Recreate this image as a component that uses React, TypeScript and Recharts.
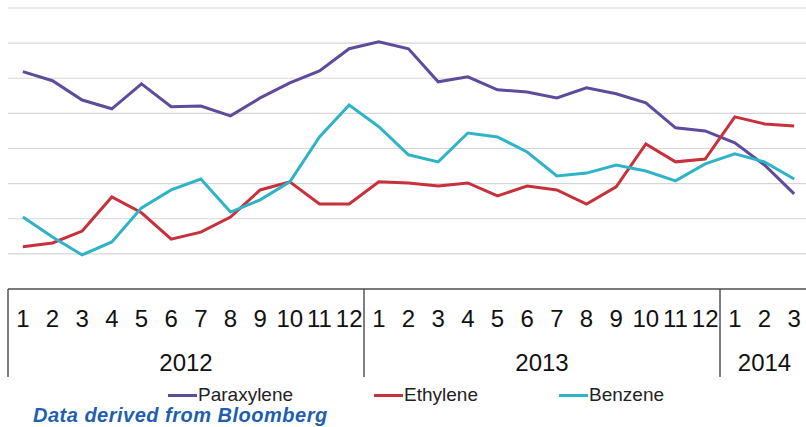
import React from "react";
import {
  CartesianGrid,
  Line,
  LineChart,
  XAxis,
  YAxis,
} from "recharts";

const monthLabels = [
  "1", "2", "3", "4", "5", "6", "7", "8", "9", "10", "11", "12",
  "1", "2", "3", "4", "5", "6", "7", "8", "9", "10", "11", "12",
  "1", "2", "3",
];
const yearLabels = [
  "2012", "2012", "2012", "2012", "2012", "2012", "2012", "2012", "2012", "2012", "2012", "2012",
  "2013", "2013", "2013", "2013", "2013", "2013", "2013", "2013", "2013", "2013", "2013", "2013",
  "2014", "2014", "2014",
];

const paraxylene = [
  6.19, 5.93, 5.38, 5.13, 5.84, 5.19, 5.21, 4.93, 5.44, 5.87, 6.21, 6.84,
  7.04, 6.84, 5.9, 6.04, 5.67, 5.61, 5.44, 5.73, 5.56, 5.3, 4.59, 4.5,
  4.16, 3.53, 2.71,
];
const ethylene = [
  1.2, 1.31, 1.65, 2.62, 2.17, 1.42, 1.62, 2.05, 2.82, 3.05, 2.42, 2.42,
  3.05, 3.02, 2.93, 3.02, 2.65, 2.93, 2.82, 2.42, 2.91, 4.13, 3.62, 3.7,
  4.9, 4.7, 4.64,
];
const benzene = [
  2.05, 1.48, 0.97, 1.34, 2.31, 2.82, 3.13, 2.19, 2.54, 3.05, 4.33, 5.24,
  4.62, 3.82, 3.62, 4.44, 4.33, 3.9, 3.22, 3.3, 3.53, 3.36, 3.08, 3.56,
  3.85, 3.62, 3.13,
];

const yTicks = [0, 1, 2, 3, 4, 5, 6, 7, 8];

const series = [
  { key: "Paraxylene", color: "#5e4b9c" },
  { key: "Ethylene", color: "#c8303c" },
  { key: "Benzene", color: "#2fb3c6" },
];

const rows = monthLabels.map((m, i) => ({
  id: i,
  month: m,
  year: yearLabels[i],
  Paraxylene: paraxylene[i],
  Ethylene: ethylene[i],
  Benzene: benzene[i],
}));

const FONT = "'Liberation Sans', Arial, sans-serif";
const AXIS = "#555";

// first / last index of every year group
const groups = yearLabels.reduce<Record<string, [number, number]>>((acc, y, i) => {
  if (!acc[y]) acc[y] = [i, i];
  else acc[y][1] = i;
  return acc;
}, {});

function MonthTick(props: any) {
  const { x, y, payload } = props;
  const i: number = payload.index;
  const half: number = payload.offset > 0 ? payload.offset : 14.83;
  const band = half * 2;
  const year = yearLabels[i];
  const [first, last] = groups[year];
  return (
    <g>
      <text x={x} y={y + 38} textAnchor="middle" fontSize={24} fill="#111" fontFamily={FONT}>
        {monthLabels[i]}
      </text>
      {i === first && (
        <text
          x={x + ((last - first) / 2) * band}
          y={y + 82}
          textAnchor="middle"
          fontSize={24}
          fill="#111"
          fontFamily={FONT}
        >
          {year}
        </text>
      )}
      {i === 0 && <line x1={x - half} x2={x - half} y1={y} y2={y + 88} stroke={AXIS} strokeWidth={1.5} />}
      {i === last && <line x1={x + half} x2={x + half} y1={y} y2={y + 88} stroke={AXIS} strokeWidth={1.5} />}
    </g>
  );
}

const NoTick = () => <g />;

export default function App() {
  return (
    <div
      style={{
        position: "absolute",
        left: 0,
        top: 0,
        width: 806,
        height: 427,
        overflow: "hidden",
        background: "#fff",
        fontFamily: FONT,
      }}
    >
      <LineChart
        width={816}
        height={427}
        data={rows}
        margin={{ top: 8, right: 7, left: 8, bottom: 0 }}
      >
        <CartesianGrid vertical={false} stroke="#d6d6d6" strokeWidth={1.2} />
        <XAxis
          dataKey="id"
          type="category"
          scale="band"
          height={138}
          tickLine={false}
          tickSize={0}
          tickMargin={0}
          interval={0}
          axisLine={{ stroke: AXIS, strokeWidth: 1.5 }}
          tick={<MonthTick />}
        />
        {/* top frame line */}
        <XAxis
          xAxisId="top"
          dataKey="id"
          orientation="top"
          height={0}
          tickLine={false}
          tick={NoTick}
          axisLine={{ stroke: AXIS, strokeWidth: 1.5 }}
        />
        <YAxis
          width={0}
          domain={[0, 8]}
          ticks={yTicks}
          interval={0}
          tick={NoTick}
          tickLine={false}
          axisLine={{ stroke: AXIS, strokeWidth: 1.5 }}
        />
        {series.map((s) => (
          <Line
            key={s.key}
            dataKey={s.key}
            stroke={s.color}
            strokeWidth={3}
            dot={false}
            type="linear"
            isAnimationActive={false}
          />
        ))}
      </LineChart>
      <div
        style={{
          position: "absolute",
          top: 384,
          left: 168,
          display: "flex",
          gap: 81,
          fontSize: 19,
          lineHeight: "22px",
          color: "#222",
        }}
      >
        {series.map((s) => (
          <div key={s.key} style={{ display: "flex", alignItems: "center" }}>
            <span style={{ display: "inline-block", width: 29, height: 3, background: s.color, marginRight: 1 }} />
            <span>{s.key}</span>
          </div>
        ))}
      </div>
      <div
        style={{
          position: "absolute",
          top: 405,
          left: 33,
          fontSize: 20,
          lineHeight: "20px",
          fontWeight: "bold",
          fontStyle: "italic",
          letterSpacing: 0.5,
          color: "#1f5fae",
          whiteSpace: "nowrap",
        }}
      >
        Data derived from Bloomberg
      </div>
    </div>
  );
}
